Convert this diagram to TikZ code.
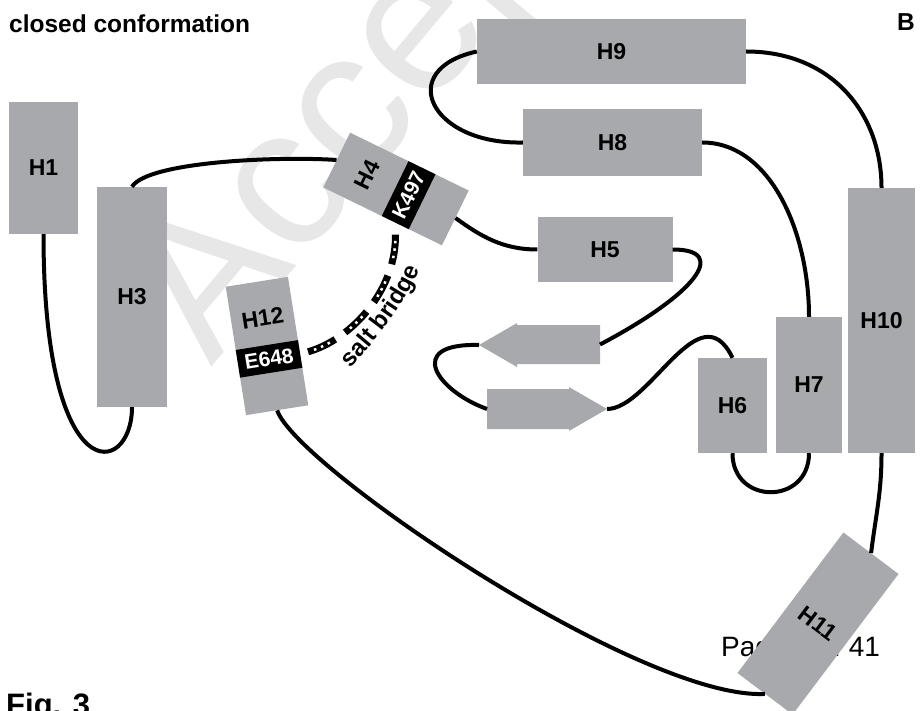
\documentclass[tikz,border=0pt]{standalone}
\usepackage{fontspec}
\setmainfont{Liberation Sans}
\usetikzlibrary{calc,decorations.text}
\definecolor{helixgray}{RGB}{167,169,172}
\definecolor{marklight}{RGB}{231,231,231}
\tikzset{helix/.style={fill=helixgray, inner sep=0pt, font=\bfseries\fontsize{23}{23}\selectfont},
  hname/.style={inner sep=0pt, font=\bfseries\fontsize{23}{23}\selectfont},
  band/.style={fill=black, text=white, inner sep=0pt, font=\bfseries\fontsize{21}{21}\selectfont},
  strand/.style={fill=helixgray},
  chain/.style={black, line width=4pt},
  bridge/.style={black, line width=7pt, dash pattern=on 30pt off 12pt, shorten <=8pt, shorten >=10pt},
  bridgedots/.style={white, line width=2.5pt, dash pattern=on 2.5pt off 5pt on 2.5pt off 5pt on 2.5pt off 24.5pt, dash phase=35.75pt, shorten <=8pt, shorten >=10pt},
  title/.style={anchor=base west, inner sep=0pt, font=\bfseries\fontsize{24.5}{24.5}\selectfont},
  wmark/.style={inner sep=0pt, text=marklight, font=\fontsize{200}{200}\selectfont}}

\begin{document}
\begin{tikzpicture}[x=1pt, y=-1pt]
  \useasboundingbox (0,0) rectangle (920,711);
  % page leftovers
  \node[wmark, rotate=50] (wm) at (440,15) {Accepted};
  \node[anchor=base west, inner sep=0pt, font=\fontsize{28}{28}\selectfont] (pg) at (721,656) {Page 9 of 41};
  \node[title] (ttl) at (9,33) {closed conformation};
  \node[title] (pB) at (897,31) {B};
  \node[title, font=\bfseries\fontsize{31}{31}\selectfont] (fig) at (6,715) {Fig. 3};
  % helices
  \node[helix, minimum width=69pt, minimum height=132pt] (H1) at (43.5,168) {H1};
  \node[helix, minimum width=70pt, minimum height=220pt] (H3) at (132,297) {H3};
  \node[helix, rotate=64, minimum width=61pt, minimum height=132pt] (H4) at (396,189) {};
  \node[hname, rotate=64] (H4name) at ($(H4.center)!0.485!(H4.north)$) {H4};
  \node[band, rotate=64, minimum width=61pt, minimum height=30pt] (K497) at ($(H4.center)!0.212!(H4.south)$) {K497};
  \node[helix, minimum width=135pt, minimum height=65pt] (H5) at (605,249.5) {H5};
  \node[helix, minimum width=69pt, minimum height=95pt] (H6) at (732.5,405.5) {H6};
  \node[helix, minimum width=66pt, minimum height=136pt] (H7) at (809,385) {H7};
  \node[helix, minimum width=179pt, minimum height=67pt] (H8) at (612.5,142.5) {H8};
  \node[helix, minimum width=269pt, minimum height=65pt] (H9) at (611.5,51.5) {H9};
  \node[helix, minimum width=67pt, minimum height=265pt] (H10) at (881.5,320.5) {H10};
  \node[helix, rotate=-37, minimum width=69pt, minimum height=176pt] (H11) at (818,623.5) {H11};
  \node[helix, rotate=9, minimum width=63pt, minimum height=130pt] (H12) at (267,346) {};
  \node[hname, rotate=9] (H12name) at ($(H12.center)!0.43!(H12.north)$) {H12};
  \node[band, rotate=9, minimum width=63pt, minimum height=28pt] (E648) at ($(H12.center)!0.2!(H12.south)$) {E648};
  % strands
  \fill[strand] (600,325) -- (517,325) -- (517,323) -- (479,345) -- (517,367) -- (517,364) -- (600,364) -- cycle;
  \coordinate (S1tail) at (600,344.5);
  \coordinate (S1tip) at (479,345);
  \fill[strand] (487,389) -- (569,389) -- (569,387) -- (607,409) -- (569,431) -- (569,429) -- (487,429) -- cycle;
  \coordinate (S2tail) at (487,409);
  \coordinate (S2tip) at (607,409);
  % loops
  \draw[chain] (H1.south) .. controls +(0,260) and +(0,70) .. (H3.south);
  \draw[chain] (H3.north) .. controls +(15,-25) and +(-60,-4) .. (H4.north);
  \draw[chain] (H4.south) .. controls +(25,18) and +(-35,0) .. (H5.west);
  \draw[chain] (H5.east) .. controls +(57.5,0) and +(95,-50) .. (S1tail);
  \draw[chain] (S1tip) .. controls +(-75,-2) and +(-50,-18) .. (S2tail);
  \draw[chain] (S2tip) .. controls +(43,0) and +(-33,-68) .. (H6.north);
  \draw[chain] (H6.south) .. controls +(0,52) and +(0,52) .. (H7.south);
  \draw[chain] (H7.north) .. controls +(0,-85) and +(68,0) .. (H8.east);
  \draw[chain] (H8.west) .. controls +(-93,2) and +(-82,18) .. (H9.west);
  \draw[chain] (H9.east) .. controls +(85,0) and +(0,-75) .. (H10.north);
  \draw[chain] (H10.south) .. controls +(0,40) and +(5,-40) .. (H11.north);
  \draw[chain] (H12.south) .. controls +(18,55) and +(-125,6) .. (H11.south);
  % salt bridge
  \draw[bridge] (E648.east) .. controls +(50,-14) and +(2,68) .. (K497.west);
  \draw[bridgedots] (E648.east) .. controls +(50,-14) and +(2,68) .. (K497.west);
  \path[decorate, decoration={text along path, text align=center,
    text={|\bfseries\fontsize{24}{24}\selectfont|salt bridge}}]
    (347,372) .. controls (375,341) and (407,304) .. (421,264);
\end{tikzpicture}
\end{document}
